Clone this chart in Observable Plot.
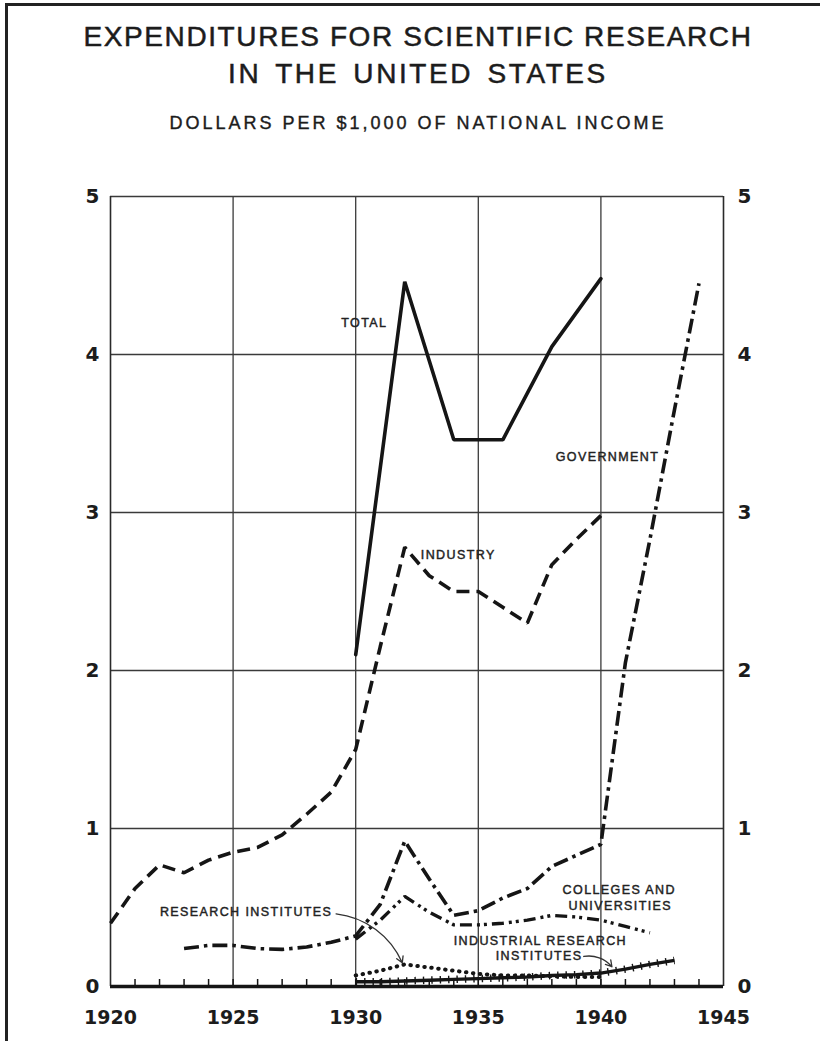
<!DOCTYPE html>
<html>
<head>
<meta charset="utf-8">
<script src="https://cdn.jsdelivr.net/npm/d3@7"></script>
<script src="https://cdn.jsdelivr.net/npm/@observablehq/plot@0.6"></script>
<style>
  html, body { margin: 0; padding: 0; background: #fff; }
  #page { position: relative; width: 820px; height: 1041px; overflow: hidden; background: #fff; }
  #border { position: absolute; left: 5px; top: 3px; right: -10px; bottom: -10px; border-left: 3px solid #222; border-top: 3px solid #222; }
  .t { position: absolute; left: 0; width: 836px; text-align: center; color: #1c1c1c; font-family: "Liberation Sans", Arial, sans-serif; white-space: nowrap; }
  #t1 { top: 20px; font-size: 28px; letter-spacing: 1.6px; line-height: 34px; -webkit-text-stroke: 0.5px #1c1c1c; }
  #t2 { top: 57px; font-size: 28px; letter-spacing: 2.6px; word-spacing: 4px; line-height: 34px; -webkit-text-stroke: 0.5px #1c1c1c; }
  #t3 { top: 112px; font-size: 18px; letter-spacing: 3px; line-height: 22px; -webkit-text-stroke: 0.4px #1c1c1c; }
  #chart { position: absolute; left: 0; top: 160px; }
</style>
</head>
<body>
<div id="page">
  <div id="border"></div>
  <div class="t" id="t1">EXPENDITURES FOR SCIENTIFIC RESEARCH</div>
  <div class="t" id="t2">IN THE UNITED STATES</div>
  <div class="t" id="t3">DOLLARS PER $1,000 OF NATIONAL INCOME</div>
  <div id="chart"></div>
</div>
<script>
// ---- Data (dollars per $1,000 of national income) ----
const totalYears = [1930, 1932, 1934, 1936, 1938, 1940];
const totalValues = [2.10, 4.46, 3.46, 3.46, 4.05, 4.48];

const industryYears = [1920, 1921, 1922, 1923, 1924, 1925, 1926, 1927, 1928, 1929, 1930, 1931, 1932, 1933, 1934, 1935, 1936, 1937, 1938, 1939, 1940];
const industryValues = [0.40, 0.62, 0.77, 0.72, 0.80, 0.85, 0.88, 0.96, 1.09, 1.23, 1.50, 2.15, 2.78, 2.60, 2.50, 2.50, 2.40, 2.30, 2.67, 2.83, 2.98];

const governmentYears = [1923, 1924, 1925, 1926, 1927, 1928, 1929, 1930, 1931, 1932, 1933, 1934, 1935, 1936, 1937, 1938, 1939, 1940, 1941, 1942, 1943, 1944];
const governmentValues = [0.24, 0.26, 0.26, 0.24, 0.235, 0.25, 0.28, 0.32, 0.52, 0.92, 0.68, 0.45, 0.48, 0.56, 0.62, 0.76, 0.83, 0.90, 2.05, 2.83, 3.65, 4.45];

const collegesYears = [1930, 1931, 1932, 1933, 1934, 1935, 1936, 1937, 1938, 1939, 1940, 1941, 1942];
const collegesValues = [0.30, 0.42, 0.57, 0.47, 0.39, 0.39, 0.40, 0.42, 0.45, 0.44, 0.42, 0.38, 0.34];

const researchInstYears = [1930, 1931, 1932, 1933, 1934, 1935, 1936, 1937, 1938, 1939, 1940];
const researchInstValues = [0.07, 0.10, 0.14, 0.12, 0.10, 0.08, 0.07, 0.07, 0.065, 0.06, 0.06];

const indResInstYears = [1930, 1931, 1932, 1933, 1934, 1935, 1936, 1937, 1938, 1939, 1940, 1941, 1942, 1943];
const indResInstValues = [0.03, 0.03, 0.035, 0.04, 0.045, 0.05, 0.055, 0.06, 0.07, 0.075, 0.085, 0.11, 0.14, 0.165];

// Axis ticks
const xTickLabels = [1920, 1925, 1930, 1935, 1940, 1945];
const xMinorTicks = d3.range(1921, 1945);
const yTickLabels = [0, 1, 2, 3, 4, 5];
const xGrid = [1925, 1930, 1935, 1940];
const yGrid = [1, 2, 3, 4, 5];

// Annotations (label text, year, value)
const labelText = ["TOTAL", "INDUSTRY", "GOVERNMENT", "COLLEGES AND", "UNIVERSITIES", "RESEARCH INSTITUTES", "INDUSTRIAL RESEARCH", "INSTITUTES"];
const labelYear = [1930.35, 1934.18, 1940.27, 1940.75, 1940.79, 1925.53, 1937.53, 1937.48];
const labelValue = [4.20, 2.73, 3.35, 0.61, 0.51, 0.47, 0.29, 0.19];

const arrowFromYear = [1929.2, 1939.3];
const arrowFromValue = [0.46, 0.19];
const arrowToYear = [1931.9, 1940.45];
const arrowToValue = [0.15, 0.125];

// ---- Build tables ----
const zip = (xs, ys) => xs.map((x, i) => ({year: x, value: ys[i]}));
const total = zip(totalYears, totalValues);
const industry = zip(industryYears, industryValues);
const government = zip(governmentYears, governmentValues);
const colleges = zip(collegesYears, collegesValues);
const researchInst = zip(researchInstYears, researchInstValues);
const indResInst = zip(indResInstYears, indResInstValues);
const labels = labelText.map((t, i) => ({text: t, year: labelYear[i], value: labelValue[i]}));
const arrows = arrowFromYear.map((x, i) => ({x1: x, y1: arrowFromValue[i], x2: arrowToYear[i], y2: arrowToValue[i]}));

const ink = "#151515";
const lineOpts = {x: "year", y: "value", stroke: ink, strokeWidth: 3.4, strokeLinejoin: "miter", strokeLinecap: "butt"};

const chart = Plot.plot({
  width: 820,
  height: 881,
  marginLeft: 110,
  marginRight: 97,
  marginTop: 36,
  marginBottom: 55,
  style: {fontFamily: "'DejaVu Sans', sans-serif", background: "transparent", color: ink},
  x: {domain: [1920, 1945], label: null},
  y: {domain: [0, 5], label: null},
  marks: [
    Plot.ruleX(xGrid, {stroke: "#3a3a3a", strokeWidth: 1.3}),
    Plot.ruleY(yGrid, {stroke: "#3a3a3a", strokeWidth: 1.3}),
    Plot.ruleX([1920, 1945], {stroke: "#2a2a2a", strokeWidth: 1.6}),
    Plot.axisX(xMinorTicks, {anchor: "bottom", tickSize: 7, dy: -7, text: null, stroke: ink, strokeWidth: 1.5}),
    Plot.ruleY([0], {stroke: ink, strokeWidth: 3.5}),
    Plot.axisX(xTickLabels, {anchor: "bottom", tickSize: 0, tickPadding: 24, fontSize: 19, fontWeight: "bold", fill: "#1c1c1c", tickFormat: d => String(d)}),
    Plot.axisY(yTickLabels, {anchor: "left", tickSize: 0, tickPadding: 11, fontSize: 20, fontWeight: "bold", fill: "#1c1c1c", tickFormat: d => String(d)}),
    Plot.axisY(yTickLabels, {anchor: "right", tickSize: 0, tickPadding: 14, fontSize: 20, fontWeight: "bold", fill: "#1c1c1c", tickFormat: d => String(d)}),

    // series
    Plot.line(indResInst, {...lineOpts, strokeWidth: 3.4}),
    Plot.line(indResInst, {...lineOpts, strokeWidth: 7.5, strokeDasharray: "1.4 7"}),
    Plot.line(researchInst, {...lineOpts, strokeWidth: 4, strokeDasharray: "0.5 6.5", strokeLinecap: "round"}),
    Plot.line(colleges, {...lineOpts, strokeDasharray: "12 5 3 4 3 5"}),
    Plot.line(government, {...lineOpts, strokeWidth: 3.6, strokeDasharray: "15 5 3.5 5"}),
    Plot.line(industry, {...lineOpts, strokeWidth: 3.6, strokeDasharray: "13 7"}),
    Plot.line(total, {...lineOpts, strokeWidth: 3.6, strokeLinecap: "round"}),

    // annotations
    Plot.text(labels, {x: "year", y: "value", text: "text", fontSize: 12.5, fontFamily: "'Liberation Sans', Arial, sans-serif", fill: "#222", stroke: "#222", strokeWidth: 0.45, textAnchor: "middle"}),
    Plot.arrow(arrows, {x1: "x1", y1: "y1", x2: "x2", y2: "y2", bend: 30, stroke: "#333", strokeWidth: 1.3, headLength: 8})
  ]
});
d3.select(chart).selectAll("g[aria-label='text'] text").style("letter-spacing", "1.4px");
document.getElementById("chart").appendChild(chart);
</script>
</body>
</html>
